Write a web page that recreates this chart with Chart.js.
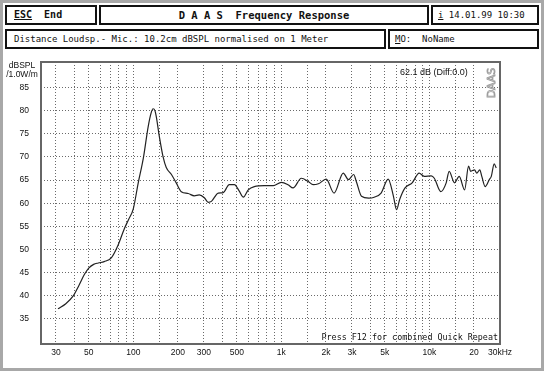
<!DOCTYPE html>
<html>
<head>
<meta charset="utf-8">
<script src="https://cdn.jsdelivr.net/npm/chart.js@4/dist/chart.umd.min.js"></script>
<style>
  html, body { margin: 0; padding: 0; background: #fff; }
  #page { position: relative; width: 544px; height: 371px; box-sizing: border-box;
          border: 3px solid #a8a8a8; overflow: hidden; }
  .box { position: absolute; box-sizing: border-box; border: 2px solid #111; background: #fff;
         font-family: "DejaVu Sans Mono", monospace; font-size: 9px; color: #111;
         line-height: 16px; white-space: pre; }
  .u { text-decoration: underline; }
  #chartWrap { position: absolute; left: -3px; top: -3px; width: 544px; height: 371px; }
</style>
</head>
<body>
<div id="page">
  <div class="box" style="left:2px;top:2px;width:92px;height:20px;padding-left:7px;font-weight:bold;font-size:10px;"><span class="u">ESC</span>  End</div>
  <div class="box" style="left:96px;top:2px;width:330px;height:20px;text-align:center;font-weight:bold;font-size:10.5px;">D A A S  Frequency Response</div>
  <div class="box" style="left:428px;top:2px;width:108px;height:20px;padding-left:5px;"><span class="u">i</span> 14.01.99 10:30</div>
  <div class="box" style="left:2px;top:26px;width:381px;height:20px;padding-left:7px;">Distance Loudsp.- Mic.: 10.2cm dBSPL normalised on 1 Meter</div>
  <div class="box" style="left:385px;top:26px;width:151px;height:20px;padding-left:5px;"><span class="u">M</span>O:  NoName</div>
  <div id="chartWrap"><canvas id="myChart" width="544" height="371"></canvas></div>
</div>
<script>
// frequencies (Hz) and level (dBSPL)
const freqs = [31, 35, 39.3, 43, 46.7, 50, 54, 58, 63.6, 71, 79, 87, 93, 100, 108, 117, 126, 132, 136, 140, 143, 150, 159, 167, 181, 195, 211, 235, 258, 279, 302, 321, 337, 375, 405, 445, 482, 520, 554, 598, 657, 767, 882, 1000, 1110, 1200, 1365, 1520, 1640, 1780, 2010, 2270, 2620, 2840, 3080, 3210, 3480, 3890, 4240, 4720, 5270, 5720, 6000, 6300, 6850, 7650, 8530, 9230, 10300, 10800, 11950, 12990, 13600, 14800, 15900, 17300, 18400, 19000, 20200, 20900, 21900, 22600, 23800, 25400, 26200, 27400, 28300];
const levels = [37.2, 38.3, 40.0, 42.3, 44.6, 46.0, 46.8, 47.1, 47.4, 48.2, 51.0, 54.5, 56.5, 58.8, 64.4, 69.8, 76.5, 79.5, 80.4, 80.0, 78.7, 74.4, 70.0, 67.7, 66.2, 64.4, 62.5, 62.1, 61.6, 61.8, 61.2, 60.2, 60.4, 62.2, 62.3, 64.0, 64.0, 62.6, 61.3, 62.9, 63.6, 63.8, 63.8, 64.5, 64.0, 63.3, 65.4, 64.7, 64.0, 64.2, 65.2, 62.2, 66.5, 65.1, 66.2, 64.7, 61.5, 61.1, 61.3, 62.2, 65.2, 61.5, 58.6, 60.8, 63.3, 64.4, 66.5, 65.8, 65.9, 65.4, 62.5, 64.4, 66.9, 64.4, 65.8, 62.9, 68.0, 66.9, 67.2, 66.5, 67.2, 65.8, 63.6, 65.1, 65.8, 68.5, 67.6];

// grid lines on the frequency axis, and the ones that carry a label
const freqGrid = [30, 40, 50, 60, 70, 80, 90, 100, 150, 200, 300, 400, 500, 600, 700, 800, 900,
  1000, 1500, 2000, 3000, 4000, 5000, 6000, 7000, 8000, 9000, 10000, 15000, 20000, 30000];
const freqLabelAt = [30, 50, 100, 200, 300, 500, 1000, 2000, 3000, 5000, 10000, 20000, 30000];
const freqLabelText = ['30', '50', '100', '200', '300', '500', '1k', '2k', '3k', '5k', '10k', '20', '30kHz'];
const dbTicks = [35, 40, 45, 50, 55, 60, 65, 70, 75, 80, 85];

const tickFont = { family: '"Liberation Sans", Arial, sans-serif', size: 8.5 };
const gridColor = '#6a6a6a';

// extra texts + plot frame
const extrasPlugin = {
    id: 'extras',
    afterDraw(chart) {
        const { ctx, chartArea: a } = chart;
        ctx.save();
        // frame
        ctx.strokeStyle = '#666';
        ctx.lineWidth = 2;
        ctx.strokeRect(a.left, a.top, a.right - a.left, a.bottom - a.top);

        ctx.fillStyle = '#111';
        ctx.font = '8.5px "Liberation Sans", Arial, sans-serif';
        ctx.textAlign = 'center';
        ctx.textBaseline = 'middle';
        ctx.fillText('dBSPL', 22, 66);
        ctx.fillText('/1.0W/m', 22, 75);

        ctx.font = '9px "Liberation Sans", Arial, sans-serif';
        ctx.textAlign = 'left';
        ctx.fillText('62.1 dB (Diff:0.0)', 400, 73);
        ctx.font = '8.4px "DejaVu Sans Mono", monospace';
        ctx.textAlign = 'right';
        ctx.fillText('Press F12 for combined Quick Repeat', a.right - 2, a.bottom - 6);

        // vertical DAAS logo
        ctx.translate(a.right - 8, 83);
        ctx.rotate(-Math.PI / 2);
        ctx.textAlign = 'center';
        ctx.font = '11px "DejaVu Sans", sans-serif';
        ctx.strokeStyle = '#999';
        ctx.lineWidth = 0.8;
        ctx.strokeText('DAAS', 0, 0);
        ctx.restore();
    }
};

new Chart(document.getElementById('myChart'), {
    type: 'line',
    data: {
        datasets: [{
            data: freqs.map((f, i) => ({ x: f, y: levels[i] })),
            borderColor: '#222',
            borderWidth: 1.2,
            pointRadius: 0,
            cubicInterpolationMode: 'monotone',
            fill: false
        }]
    },
    options: {
        responsive: false,
        animation: false,
        layout: { padding: { left: 0, top: 62, right: 44, bottom: 0 } },
        plugins: { legend: { display: false }, tooltip: { enabled: false } },
        scales: {
            x: {
                type: 'logarithmic',
                min: 23.8,
                max: 30000,
                afterBuildTicks: s => { s.ticks = freqGrid.map(v => ({ value: v })); },
                afterFit: s => { s.height = 27; },
                ticks: {
                    autoSkip: false,
                    maxRotation: 0,
                    padding: 4,
                    color: '#111',
                    font: tickFont,
                    callback: v => {
                        const k = freqLabelAt.indexOf(v);
                        return k >= 0 ? freqLabelText[k] : '';
                    }
                },
                grid: { color: gridColor, lineWidth: 1, drawTicks: false },
                border: { display: false, dash: [1, 2] }
            },
            y: {
                min: 29.6,
                max: 90.5,
                afterBuildTicks: s => { s.ticks = dbTicks.map(v => ({ value: v })); },
                afterFit: s => { s.width = 41; },
                ticks: { padding: 12, color: '#111', font: tickFont },
                grid: { color: gridColor, lineWidth: 1, drawTicks: false },
                border: { display: false, dash: [1, 2] }
            }
        }
    },
    plugins: [extrasPlugin]
});
</script>
</body>
</html>
